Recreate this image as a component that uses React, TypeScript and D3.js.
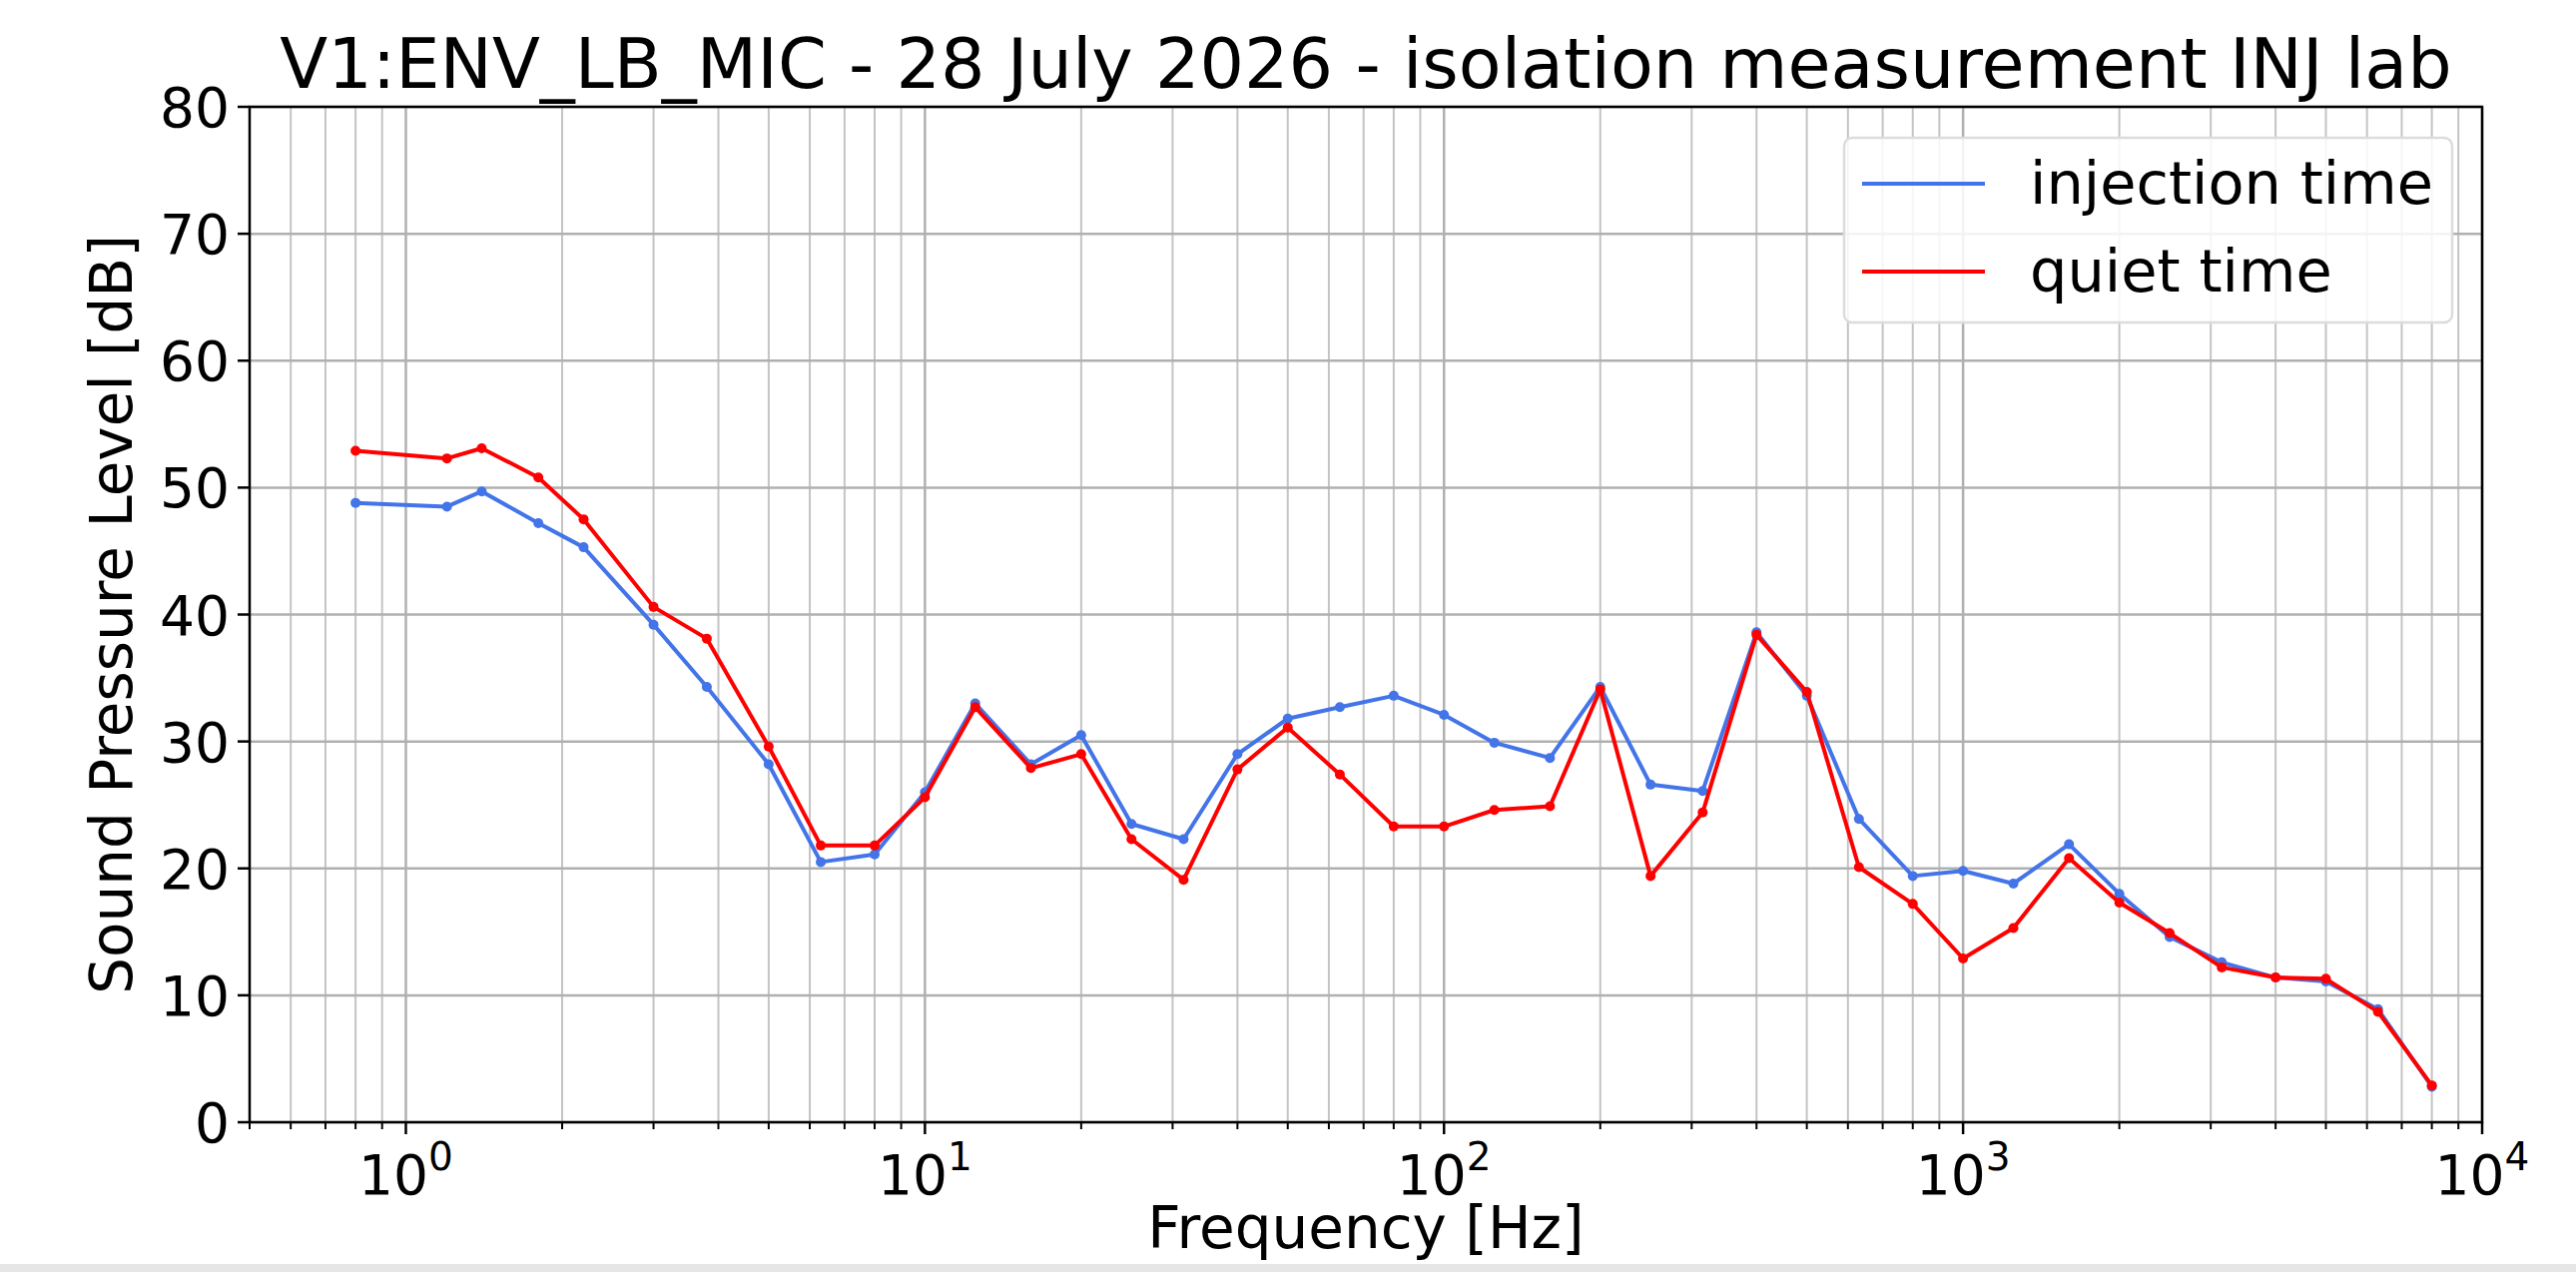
import React, { useRef, useEffect } from "react";
import * as d3 from "d3";

const freqs = [0.8, 1.2, 1.4, 1.8, 2.2, 3.0, 3.8, 5, 6.3, 8, 10, 12.5, 16, 20, 25, 31.5, 40, 50, 63, 80,
  100, 125, 160, 200, 250, 315, 400, 500, 630, 800, 1000, 1250, 1600, 2000, 2500, 3150, 4000, 5000, 6300, 8000];
const injection = [48.8, 48.5, 49.7, 47.2, 45.3, 39.2, 34.3, 28.2, 20.5, 21.1, 26, 33, 28.2, 30.5, 23.5, 22.3, 29, 31.8, 32.7, 33.6,
  32.1, 29.9, 28.7, 34.3, 26.6, 26.1, 38.6, 33.6, 23.9, 19.4, 19.8, 18.8, 21.9, 18, 14.6, 12.6, 11.4, 11.1, 8.9, 2.8];
const quiet = [52.9, 52.3, 53.1, 50.8, 47.5, 40.6, 38.1, 29.6, 21.8, 21.8, 25.6, 32.7, 27.9, 29.0, 22.3, 19.1, 27.8, 31.1, 27.4, 23.3,
  23.3, 24.6, 24.9, 34.1, 19.4, 24.4, 38.4, 33.9, 20.1, 17.2, 12.9, 15.3, 20.8, 17.3, 14.9, 12.2, 11.4, 11.3, 8.7, 2.9];
const yTicks = [0, 10, 20, 30, 40, 50, 60, 70, 80];
const xMajor = [1, 10, 100, 1000, 10000];
const series = [
  { name: "injection time", values: injection, color: "#4374e8" },
  { name: "quiet time", values: quiet, color: "#ff0000" },
];

const App: React.FC = () => {
  const ref = useRef<SVGSVGElement | null>(null);

  useEffect(() => {
    if (!ref.current) return;
    const W = 2580, H = 1274;
    const m = { left: 250, right: 2486, top: 107, bottom: 1124 };
    const font = "DejaVu Sans, sans-serif";
    const svg = d3.select(ref.current).attr("width", W).attr("height", H);
    svg.selectAll("*").remove();
    svg.append("rect").attr("width", W).attr("height", H).attr("fill", "#fff");

    const x = d3.scaleLog().domain([0.5, 10000]).range([m.left, m.right]);
    const y = d3.scaleLinear().domain([0, 80]).range([m.bottom, m.top]);

    // minor ticks
    const minor: number[] = [];
    for (let e = -1; e < 4; e++)
      for (let k = 2; k <= 9; k++) {
        const v = k * Math.pow(10, e);
        if (v >= 0.5 && v <= 10000) minor.push(v);
      }

    const grid = svg.append("g");
    grid.selectAll(".mg").data(minor).enter().append("line")
      .attr("x1", (d) => x(d)).attr("x2", (d) => x(d))
      .attr("y1", m.top).attr("y2", m.bottom)
      .attr("stroke", "#c4c4c4").attr("stroke-width", 2);
    grid.selectAll(".Mg").data(xMajor).enter().append("line")
      .attr("x1", (d) => x(d)).attr("x2", (d) => x(d))
      .attr("y1", m.top).attr("y2", m.bottom)
      .attr("stroke", "#b0b0b0").attr("stroke-width", 2.5);
    grid.selectAll(".yg").data(yTicks).enter().append("line")
      .attr("x1", m.left).attr("x2", m.right)
      .attr("y1", (d) => y(d)).attr("y2", (d) => y(d))
      .attr("stroke", "#b0b0b0").attr("stroke-width", 2.5);

    const line = d3.line<number>().x((_, i) => x(freqs[i])).y((d) => y(d));
    series.forEach((s) => {
      svg.append("path").datum(s.values).attr("d", line)
        .attr("fill", "none").attr("stroke", s.color).attr("stroke-width", 4)
        .attr("stroke-linejoin", "round");
      svg.selectAll(null).data(s.values).enter().append("circle")
        .attr("cx", (_, i) => x(freqs[i])).attr("cy", (d) => y(d))
        .attr("r", 5).attr("fill", s.color);
    });

    // frame
    svg.append("rect").attr("x", m.left).attr("y", m.top)
      .attr("width", m.right - m.left).attr("height", m.bottom - m.top)
      .attr("fill", "none").attr("stroke", "#000").attr("stroke-width", 2.5);

    // ticks
    const ax = svg.append("g").attr("stroke", "#000").attr("stroke-width", 2.5);
    xMajor.forEach((v) => ax.append("line").attr("x1", x(v)).attr("x2", x(v)).attr("y1", m.bottom).attr("y2", m.bottom + 12));
    minor.forEach((v) => ax.append("line").attr("x1", x(v)).attr("x2", x(v)).attr("y1", m.bottom).attr("y2", m.bottom + 7).attr("stroke-width", 2));
    yTicks.forEach((v) => ax.append("line").attr("x1", m.left - 12).attr("x2", m.left).attr("y1", y(v)).attr("y2", y(v)));

    yTicks.forEach((v) => svg.append("text").attr("x", m.left - 20).attr("y", y(v) + 20)
      .attr("text-anchor", "end").attr("font-family", font).attr("font-size", 55).text(v));
    xMajor.forEach((v) => {
      const t = svg.append("text").attr("x", x(v)).attr("y", m.bottom + 72)
        .attr("text-anchor", "middle").attr("font-family", font).attr("font-size", 55);
      t.append("tspan").text("10");
      t.append("tspan").attr("dy", -24).attr("font-size", 39).text(Math.round(Math.log10(v)));
    });

    svg.append("text").attr("x", (m.left + m.right) / 2).attr("y", 1250)
      .attr("text-anchor", "middle").attr("font-family", font).attr("font-size", 58).text("Frequency [Hz]");
    svg.append("text").attr("transform", `translate(132,${(m.top + m.bottom) / 2}) rotate(-90)`)
      .attr("text-anchor", "middle").attr("font-family", font).attr("font-size", 58).text("Sound Pressure Level [dB]");
    svg.append("text").attr("x", (m.left + m.right) / 2).attr("y", 88)
      .attr("text-anchor", "middle").attr("font-family", font).attr("font-size", 70)
      .text("V1:ENV_LB_MIC - 28 July 2026 - isolation measurement INJ lab");

    // legend
    const lg = svg.append("g");
    lg.append("rect").attr("x", 1847).attr("y", 138).attr("width", 609).attr("height", 185).attr("rx", 8)
      .attr("fill", "rgba(255,255,255,0.85)").attr("stroke", "#dcdcdc").attr("stroke-width", 2.5);
    series.forEach((s, i) => {
      const ly = 184 + i * 88;
      lg.append("line").attr("x1", 1865).attr("x2", 1988).attr("y1", ly).attr("y2", ly)
        .attr("stroke", s.color).attr("stroke-width", 4);
      lg.append("text").attr("x", 2033).attr("y", ly + 20).attr("font-family", font).attr("font-size", 59).text(s.name);
    });

    // bottom strip of the screenshot
    svg.append("rect").attr("x", 0).attr("y", 1266).attr("width", W).attr("height", 8).attr("fill", "#e6e6e6");
  }, []);

  return <svg ref={ref} style={{ position: "absolute", left: 0, top: 0 }} />;
};

export default App;
